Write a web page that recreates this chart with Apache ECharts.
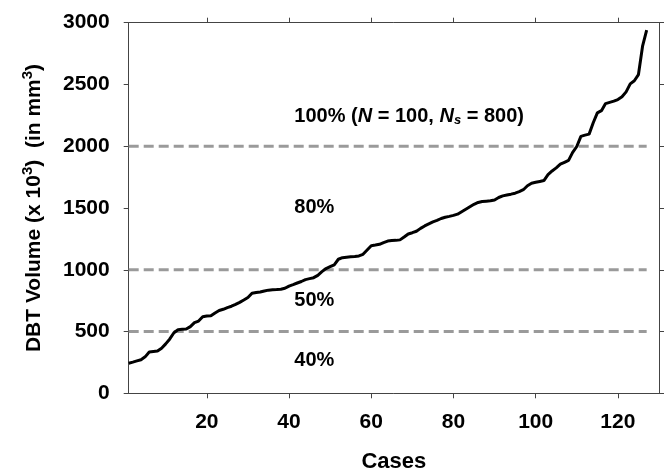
<!DOCTYPE html>
<html>
<head>
<meta charset="utf-8">
<script src="https://cdn.jsdelivr.net/npm/echarts@6/dist/echarts.min.js"></script>
<style>
  html, body { margin: 0; padding: 0; background: #fff; }
  #chart { width: 666px; height: 474px; }
</style>
</head>
<body>
<div id="chart"></div>
<script>
// DBT volume per case, sorted ascending
const volume = [
  243, 252, 262, 272, 295, 334, 338, 342, 365, 400,
  440, 490, 515, 518, 520, 540, 572, 585, 620, 626,
  628, 650, 670, 680, 694, 705, 720, 736, 755, 775,
  810, 816, 820, 828, 835, 838, 840, 843, 850, 868,
  880, 893, 905, 920, 928, 936, 955, 985, 1010, 1025,
  1040, 1085, 1098, 1102, 1105, 1108, 1112, 1125, 1160, 1195,
  1200, 1206, 1220, 1232, 1236, 1238, 1242, 1265, 1290, 1300,
  1312, 1335, 1355, 1372, 1388, 1400, 1415, 1425, 1432, 1440,
  1450, 1470, 1490, 1510, 1530, 1545, 1552, 1555, 1558, 1565,
  1585, 1598, 1605, 1612, 1620, 1632, 1648, 1680, 1700, 1708,
  1715, 1722, 1770, 1800, 1825, 1855, 1870, 1885, 1950, 1998,
  2080, 2090, 2098, 2190, 2270, 2288, 2345, 2355, 2365, 2378,
  2400, 2440, 2505, 2530, 2580, 2810, 2940
];
const thresholds = [500, 1000, 2000];
const xTicks = [20, 40, 60, 80, 100, 120];
const regionText = [
  '100% ({n|N} = 100, {n|N}{s|s} = 800)',
  '80%',
  '50%',
  '40%'
];
const regionY = [2239, 1506, 753, 267];
const regionX = 41.3;

const FONT = '"Liberation Sans", Arial, sans-serif';
const AXIS_COLOR = '#444';
const TXT = '#000';

function makeChart() {
  let myChart = echarts.init(document.getElementById('chart'));

  let curve = volume.map((v, i) => [i + 1, v]);
  let lastCase = volume.length;

  let dashSeries = thresholds.map(t => ({
    type: 'line',
    data: [[1, t], [lastCase, t]],
    symbol: 'none',
    silent: true,
    lineStyle: { color: '#9a9a9a', width: 3, type: [10, 5] },
    z: 1
  }));

  let labelData = regionText.map((txt, i) => ({
    value: [regionX, regionY[i]],
    label: { formatter: txt }
  }));

  let xBase = {
    type: 'value',
    min: 1,
    max: 130,
    splitLine: { show: false },
    axisLine: { show: true, onZero: false, lineStyle: { color: AXIS_COLOR, width: 1 } },
    axisTick: { show: true, length: 5, customValues: xTicks, lineStyle: { color: AXIS_COLOR } }
  };
  let yBase = {
    type: 'value',
    min: 0,
    max: 3000,
    interval: 500,
    splitLine: { show: false },
    axisLine: { show: true, onZero: false, lineStyle: { color: AXIS_COLOR, width: 1 } },
    axisTick: { show: true, length: 5, lineStyle: { color: AXIS_COLOR } }
  };

  let option = {
    animation: false,
    backgroundColor: '#fff',
    grid: { left: 128.7, right: 7, top: 22.7, bottom: 80.7, outerBoundsMode: 'none', containLabel: false },
    xAxis: [
      Object.assign({}, xBase, {
        position: 'bottom',
        name: 'Cases',
        nameLocation: 'middle',
        nameGap: 58,
        nameTextStyle: { fontFamily: FONT, fontWeight: 'bold', fontSize: 22, color: TXT },
        axisLabel: {
          customValues: xTicks,
          margin: 18,
          fontFamily: FONT, fontWeight: 'bold', fontSize: 21, color: TXT
        }
      }),
      Object.assign({}, xBase, {
        position: 'top',
        axisLabel: { show: false }
      })
    ],
    yAxis: [
      Object.assign({}, yBase, {
        position: 'left',
        name: '{a|DBT Volume (x 10}{sup|3}{a|)  (in mm}{sup|3}{a|)}',
        nameLocation: 'middle',
        nameGap: 80,
        nameTextStyle: {
          rich: {
            a: { fontFamily: FONT, fontWeight: 'bold', fontSize: 21, color: TXT, lineHeight: 28 },
            sup: { fontFamily: FONT, fontWeight: 'bold', fontSize: 15, color: TXT, verticalAlign: 'top', lineHeight: 28 }
          }
        },
        axisLabel: {
          margin: 19,
          formatter: v => String(v),
          fontFamily: FONT, fontWeight: 'bold', fontSize: 21, color: TXT
        }
      }),
      Object.assign({}, yBase, {
        position: 'right',
        axisLabel: { show: false }
      })
    ],
    series: dashSeries.concat([
      {
        type: 'line',
        data: curve,
        symbol: 'none',
        lineStyle: { color: '#000', width: 3 },
        z: 3
      },
      {
        type: 'scatter',
        data: labelData,
        symbolSize: 0,
        silent: true,
        itemStyle: { color: '#000', opacity: 1 },
        label: {
          show: true,
          position: 'right',
          distance: 0,
          fontFamily: FONT,
          fontWeight: 'bold',
          fontSize: 20,
          color: TXT,
          rich: {
            n: { fontFamily: FONT, fontWeight: 'bold', fontStyle: 'italic', fontSize: 20, color: TXT },
            s: { fontFamily: FONT, fontWeight: 'bold', fontStyle: 'italic', fontSize: 13, color: TXT, verticalAlign: 'bottom', padding: [6, 0, 0, 0] }
          }
        },
        z: 4
      }
    ])
  };

  myChart.setOption(option);
}

makeChart();
</script>
</body>
</html>
